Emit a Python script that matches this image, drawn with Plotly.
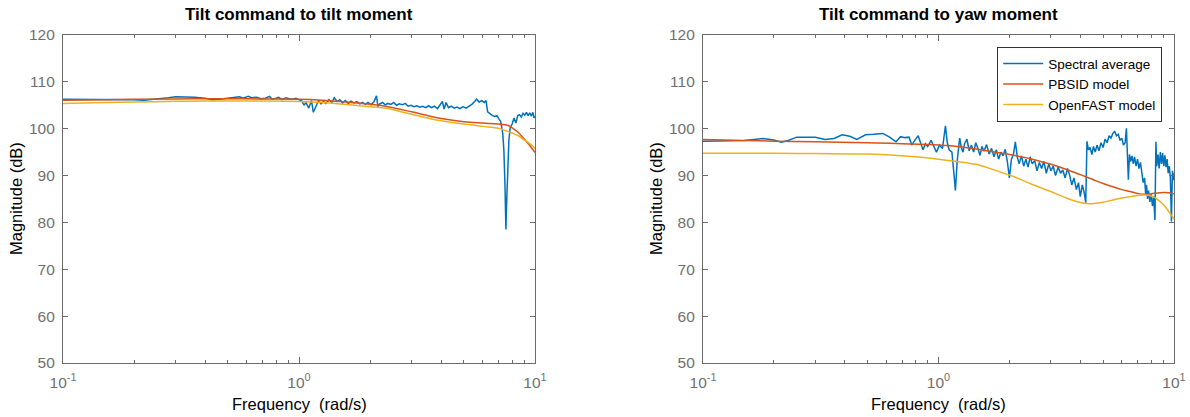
import plotly.graph_objects as go

# ---------------- data ----------------
# Left panel: Tilt command to tilt moment
tilt_spec_f = [0.100, 0.12, 0.14, 0.16, 0.18, 0.20, 0.22, 0.25, 0.28, 0.30, 0.33, 0.36, 0.40, 0.43, 0.46,
               0.50, 0.53, 0.56, 0.58, 0.61, 0.63, 0.66, 0.69, 0.72, 0.75, 0.77, 0.80, 0.82, 0.85, 0.88,
               0.91, 0.94, 0.97, 1.00, 1.03, 1.05, 1.07, 1.10, 1.13, 1.15, 1.18, 1.21, 1.24, 1.27, 1.30,
               1.34, 1.38, 1.41, 1.45, 1.49, 1.53, 1.57, 1.62, 1.66, 1.71, 1.76, 1.81, 1.86, 1.91, 1.96,
               2.02, 2.08, 2.13, 2.16, 2.20, 2.26, 2.32, 2.38, 2.45, 2.52, 2.59, 2.66, 2.74, 2.82, 2.90,
               2.98, 3.07, 3.16, 3.25, 3.34, 3.44, 3.54, 3.64, 3.75, 3.86, 3.97, 4.05, 4.12, 4.20, 4.30,
               4.42, 4.55, 4.68, 4.81, 4.95, 5.10, 5.25, 5.40, 5.55, 5.66, 5.80, 5.95, 6.10, 6.20, 6.30,
               6.45, 6.60, 6.75, 6.90, 7.05, 7.15, 7.30, 7.38, 7.46, 7.53, 7.58, 7.65, 7.75, 7.85, 8.00,
               8.15, 8.30, 8.45, 8.60, 8.75, 8.90, 9.05, 9.20, 9.35, 9.50, 9.65, 9.80, 9.90, 10.0]
tilt_spec_db = [106.3, 106.3, 106.3, 106.35, 106.3, 106.2, 106.1, 106.3, 106.6, 106.8, 106.8, 106.7, 106.5, 106.2, 106.3,
                106.5, 106.6, 106.8, 106.5, 106.9, 106.6, 106.7, 106.4, 106.5, 106.9, 106.3, 106.5, 106.7, 106.2, 106.6,
                106.4, 106.3, 106.5, 106.2, 105.9, 105.0, 105.6, 104.4, 106.0, 103.5, 104.8, 106.0, 105.3, 105.8, 105.4,
                106.2, 105.6, 106.6, 105.8, 106.2, 105.5, 106.0, 105.4, 105.9, 105.5, 105.8, 105.3, 105.6, 105.2, 105.6,
                105.1, 105.8, 107.0, 104.7, 105.3, 105.6, 105.1, 105.4, 105.2, 105.6, 105.0, 105.3, 105.1, 105.4, 104.8,
                105.0, 104.7, 104.9, 104.6, 104.8, 104.5, 104.9, 104.5, 104.8, 104.3, 105.2, 105.8, 104.2, 105.6, 104.5,
                104.8, 104.4, 104.6, 104.3, 104.7, 104.4, 104.8, 105.2, 105.8, 106.3, 105.7, 106.0, 105.6, 106.0, 103.6,
                103.1, 102.8, 102.6, 102.8, 102.0, 101.6, 99.0, 95.5, 88.0, 78.5, 84.0, 92.0, 97.5, 100.2, 101.0,
                102.3, 101.2, 102.8, 103.0, 102.5, 103.3, 102.9, 103.5, 102.8, 103.4, 102.7, 103.5, 102.3, 102.7]

tilt_pbsid_f = [0.1, 0.15, 0.2, 0.3, 0.5, 0.7, 1.0, 1.25, 1.5, 2.0, 2.3, 3.0, 3.5, 4.0, 5.0, 6.0, 7.0, 7.7, 8.0,
                8.5, 9.0, 9.5, 10.0]
tilt_pbsid_db = [106.1, 106.2, 106.3, 106.35, 106.4, 106.35, 106.3, 106.1, 105.8, 105.2, 104.85, 103.6, 102.8,
                 102.2, 101.5, 101.2, 101.0, 100.7, 100.2, 99.2, 97.8, 96.4, 94.9]

tilt_openfast_f = [0.1, 0.15, 0.2, 0.3, 0.4, 0.7, 1.0, 1.25, 1.5, 2.0, 2.3, 3.0, 4.0, 5.0, 6.0, 7.0, 7.5, 8.0,
                   8.5, 9.0, 9.5, 10.0]
tilt_openfast_db = [105.4, 105.6, 105.7, 105.85, 105.9, 105.9, 105.8, 105.6, 105.3, 104.7, 104.4, 103.1, 101.7,
                    101.0, 100.5, 100.1, 99.6, 99.1, 98.5, 97.6, 96.8, 95.8]

# Right panel: Tilt command to yaw moment
yaw_spec_f = [0.100, 0.12, 0.15, 0.18, 0.20, 0.215, 0.23, 0.25, 0.28, 0.30, 0.33, 0.36, 0.39, 0.42, 0.45,
              0.49, 0.53, 0.58, 0.62, 0.66, 0.69, 0.72, 0.75, 0.77, 0.79, 0.82, 0.84, 0.86, 0.88, 0.90,
              0.93, 0.96, 0.98, 1.01, 1.04, 1.07, 1.09, 1.11, 1.14, 1.16, 1.18, 1.20, 1.23, 1.25, 1.27,
              1.29, 1.32, 1.35, 1.38, 1.41, 1.44, 1.47, 1.50, 1.53, 1.56, 1.60, 1.64, 1.68, 1.72, 1.76,
              1.80, 1.84, 1.88, 1.92, 1.96, 2.00, 2.04, 2.08, 2.12, 2.16, 2.20, 2.25, 2.30, 2.35, 2.40,
              2.45, 2.50, 2.56, 2.62, 2.68, 2.74, 2.80, 2.87, 2.94, 3.00, 3.07, 3.14, 3.22, 3.30, 3.37,
              3.45, 3.53, 3.60, 3.68, 3.76, 3.85, 3.93, 4.00, 4.08, 4.15, 4.22, 4.27, 4.33, 4.40, 4.48,
              4.55, 4.63, 4.71, 4.80, 4.90, 5.00, 5.10, 5.20, 5.30, 5.40, 5.50, 5.60, 5.70, 5.80, 5.90,
              6.00, 6.10, 6.20, 6.28, 6.35, 6.40, 6.47, 6.55, 6.63, 6.72, 6.80, 6.90, 7.00, 7.10, 7.20,
              7.30, 7.40, 7.50, 7.58, 7.65, 7.72, 7.80, 7.90, 8.00, 8.10, 8.20, 8.30, 8.38, 8.45, 8.55,
              8.65, 8.75, 8.85, 8.95, 9.05, 9.15, 9.25, 9.35, 9.45, 9.55, 9.65, 9.75, 9.85, 9.95, 10.0]
yaw_spec_db = [97.3, 97.4, 97.5, 97.9, 97.6, 97.1, 97.5, 98.2, 98.2, 98.2, 97.7, 97.9, 98.7, 98.4, 97.7,
               98.7, 98.8, 99.0, 98.2, 97.2, 98.3, 98.1, 98.2, 96.5, 97.4, 98.5, 96.9, 95.5, 96.8, 96.2,
               97.5, 96.0, 95.0, 96.5, 95.8, 100.6, 97.0, 95.5, 95.0, 91.0, 86.8, 93.0, 98.0, 96.0, 95.0,
               96.8, 97.8, 95.3, 96.5, 95.0, 97.0, 95.8, 94.3, 96.2, 95.2, 96.6, 94.6, 95.8, 94.0, 95.5,
               93.5, 95.0, 94.2, 95.6, 93.0, 89.5, 93.5, 94.5, 97.2, 94.0, 92.5, 94.2, 92.0, 93.5, 91.8,
               94.0, 92.5, 93.2, 91.0, 92.8, 91.5, 93.0, 90.5, 92.5, 91.0, 92.0, 90.0, 91.8, 90.5, 91.2,
               89.5, 91.5, 90.2, 88.0, 89.5, 87.0, 88.5, 85.5, 88.0, 86.5, 84.2, 97.3, 95.5, 96.0, 94.5,
               96.2, 95.0, 96.5, 95.3, 97.0, 96.0, 97.8, 97.0, 98.5, 98.0, 99.0, 99.4, 98.5, 98.8, 97.5,
               98.0, 96.5, 97.0, 100.1, 95.0, 89.1, 94.5, 93.0, 94.2, 92.5, 94.0, 92.0, 93.5, 91.5, 92.8,
               90.5, 88.5, 89.5, 86.0, 88.0, 85.0, 86.8, 84.4, 86.0, 83.5, 85.5, 80.5, 97.2, 92.0, 94.5,
               91.5, 95.0, 92.5, 94.8, 92.0, 94.3, 91.8, 93.5, 90.5, 92.0, 89.5, 80.2, 91.0, 89.0, 90.5]

yaw_pbsid_f = [0.1, 0.15, 0.2, 0.3, 0.5, 0.7, 1.0, 1.3, 1.6, 2.0, 2.5, 3.0, 3.5, 4.0, 4.5, 5.0, 5.5, 6.0,
               6.5, 7.0, 7.5, 8.0, 8.5, 9.0, 9.5, 10.0]
yaw_pbsid_db = [97.7, 97.5, 97.35, 97.2, 97.0, 96.8, 96.5, 96.0, 95.3, 94.5, 93.5, 92.4, 91.3, 90.2, 89.2,
                88.3, 87.6, 87.0, 86.6, 86.2, 86.0, 86.1, 86.3, 86.4, 86.35, 86.1]

yaw_openfast_f = [0.1, 0.2, 0.3, 0.5, 0.65, 0.8, 1.0, 1.2, 1.44, 1.7, 2.08, 2.5, 3.0, 3.5, 4.05, 4.5, 5.0,
                  5.5, 6.0, 6.7, 7.3, 7.8, 8.3, 8.8, 9.2, 9.6, 10.0]
yaw_openfast_db = [94.75, 94.75, 94.7, 94.6, 94.35, 94.0, 93.5, 93.0, 92.4, 91.3, 89.8, 88.1, 86.6, 85.2,
                   84.2, 84.0, 84.3, 84.8, 85.2, 85.6, 85.85, 85.8, 85.3, 84.3, 83.3, 82.0, 80.7]

series_names = ["Spectral average", "PBSID model", "OpenFAST model"]
colors = ["#0072BD", "#D95319", "#EDB120"]
x_tickvals = [0.1, 1, 10]
x_ticktext = ["10<sup>-1</sup>", "10<sup>0</sup>", "10<sup>1</sup>"]
minor_vals = [0.2, 0.3, 0.4, 0.5, 0.6, 0.7, 0.8, 0.9, 2, 3, 4, 5, 6, 7, 8, 9]
y_tickvals = [50, 60, 70, 80, 90, 100, 110, 120]
titles = ["Tilt command to tilt moment", "Tilt command to yaw moment"]

# ---------------- figure ----------------
W, H = 1190, 417
FONT = "Liberation Sans, Arial, Helvetica, sans-serif"
AX = "#6b6b6b"
TXT = "#6f6f6f"

fig = go.Figure()

panels = [
    (tilt_spec_f, tilt_spec_db, tilt_pbsid_f, tilt_pbsid_db, tilt_openfast_f, tilt_openfast_db, "x", "y"),
    (yaw_spec_f, yaw_spec_db, yaw_pbsid_f, yaw_pbsid_db, yaw_openfast_f, yaw_openfast_db, "x2", "y2"),
]
for i, (sf, sd, pf, pd, of, od, xa, ya) in enumerate(panels):
    show = (i == 1)
    fig.add_trace(go.Scatter(x=sf, y=sd, mode="lines", name=series_names[0], showlegend=show,
                             line=dict(color=colors[0], width=1.5), xaxis=xa, yaxis=ya))
    fig.add_trace(go.Scatter(x=pf, y=pd, mode="lines", name=series_names[1], showlegend=show,
                             line=dict(color=colors[1], width=1.5, shape="spline", smoothing=1.0),
                             xaxis=xa, yaxis=ya))
    fig.add_trace(go.Scatter(x=of, y=od, mode="lines", name=series_names[2], showlegend=show,
                             line=dict(color=colors[2], width=1.5, shape="spline", smoothing=1.0),
                             xaxis=xa, yaxis=ya))

def px_x(p):
    return p / W

def px_y(p):
    return 1 - p / H

left_dom = [px_x(63), px_x(535)]
right_dom = [px_x(703), px_x(1174)]
y_dom = [px_y(363), px_y(35)]

def xaxis_cfg(dom, anchor):
    return dict(domain=dom, anchor=anchor, type="log", range=[-1, 1], automargin=False,
                tickvals=x_tickvals, ticktext=x_ticktext,
                ticks="inside", ticklen=6, tickwidth=1, tickcolor=AX,
                minor=dict(ticks="inside", ticklen=3, tickwidth=1, tickcolor=AX, tickvals=minor_vals),
                showline=True, linecolor=AX, linewidth=1.2, mirror="ticks",
                showgrid=False, zeroline=False,
                tickfont=dict(family=FONT, size=15.5, color=TXT), ticklabelstandoff=5)

def yaxis_cfg(anchor):
    return dict(domain=y_dom, anchor=anchor, range=[50, 120], tickvals=y_tickvals, automargin=False,
                ticks="inside", ticklen=5, tickwidth=1, tickcolor=AX,
                showline=True, linecolor=AX, linewidth=1.2, mirror="ticks",
                showgrid=False, zeroline=False,
                tickfont=dict(family=FONT, size=15.5, color=TXT), ticklabelstandoff=4)

annotations = []
for dom, title in zip([left_dom, right_dom], titles):
    cx = (dom[0] + dom[1]) / 2
    annotations.append(dict(text="<b>" + title + "</b>", x=cx, y=px_y(14), xref="paper", yref="paper",
                            xanchor="center", yanchor="middle", showarrow=False,
                            font=dict(family=FONT, size=17, color="#000000")))
    annotations.append(dict(text="Frequency  (rad/s)", x=cx, y=px_y(393), xref="paper", yref="paper",
                            xanchor="center", yanchor="top", showarrow=False,
                            font=dict(family=FONT, size=16.5, color="#000000")))
for xp in [16, 656]:
    annotations.append(dict(text="Magnitude (dB)", x=px_x(xp), y=px_y(199), xref="paper", yref="paper",
                            xanchor="center", yanchor="middle", showarrow=False, textangle=-90,
                            font=dict(family=FONT, size=16.5, color="#000000")))

fig.update_layout(
    width=W, height=H,
    margin=dict(l=0, r=0, t=0, b=0, autoexpand=False),
    paper_bgcolor="white", plot_bgcolor="white",
    xaxis=xaxis_cfg(left_dom, "y"),
    yaxis=yaxis_cfg("x"),
    xaxis2=xaxis_cfg(right_dom, "y2"),
    yaxis2=yaxis_cfg("x2"),
    annotations=annotations,
    showlegend=True,
    legend=dict(x=px_x(997), y=px_y(47), xanchor="left", yanchor="top",
                bgcolor="white", bordercolor="#333333", borderwidth=1.2,
                font=dict(family=FONT, size=13.5, color="#000000"),
                itemwidth=40, tracegroupgap=0),
)

fig.write_html("out.html", config={"displayModeBar": False},
               post_script="document.body.style.margin='0';document.body.style.padding='0';"
                           "document.body.style.overflow='hidden';")
